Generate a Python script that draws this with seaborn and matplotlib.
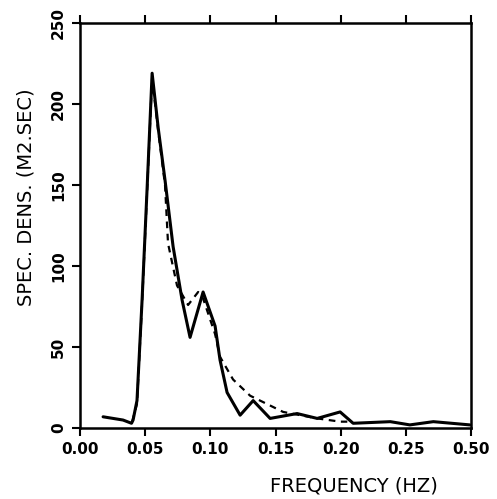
import numpy as np
import pandas as pd
import matplotlib
matplotlib.use("Agg")
import matplotlib.pyplot as plt
import seaborn as sns

# measured spectrum (solid)
freq_obs = [0.0177, 0.033, 0.0395, 0.0407, 0.0437, 0.0476, 0.0514, 0.0553, 0.0600,
            0.0652, 0.0714, 0.0783, 0.0844, 0.0944, 0.1036, 0.1074, 0.1128, 0.1228,
            0.1328, 0.1458, 0.1665, 0.1819, 0.1995, 0.2095, 0.238, 0.253, 0.271, 0.299]
dens_obs = [7, 5, 3, 5, 17, 79, 147, 219, 185,
            153, 112, 79, 56, 84, 63, 42, 22, 8,
            17, 6, 9, 6, 10, 3, 4, 2, 4, 2]

# fitted spectrum (dashed)
freq_fit = [0.040, 0.0437, 0.0476, 0.0514, 0.0553, 0.0600, 0.0652, 0.0675, 0.0744,
            0.0829, 0.0906, 0.0944, 0.1036, 0.1074, 0.1174, 0.1305, 0.1558, 0.182,
            0.1995, 0.205]
dens_fit = [4, 15, 77, 145, 216, 183, 150, 114, 88,
            76, 84, 80, 58, 44, 30, 20, 10, 6,
            4, 4]

xtick_vals = [0.0, 0.05, 0.10, 0.15, 0.20, 0.25, 0.30]
xtick_labels = ["0.00", "0.05", "0.10", "0.15", "0.20", "0.25", "0.50"]
ytick_vals = [0, 50, 100, 150, 200, 250]

sns.set_style("ticks")
plt.rcParams["font.family"] = ["DejaVu Sans"]
plt.rcParams["text.color"] = "black"
plt.rcParams["axes.labelcolor"] = "black"
plt.rcParams["xtick.color"] = "black"
plt.rcParams["ytick.color"] = "black"

fig = plt.figure(figsize=(4.97, 4.99), dpi=100)
ax = fig.add_axes([0.161, 0.142, 0.787, 0.812])

obs = pd.DataFrame({"f": freq_obs, "s": dens_obs})
fit = pd.DataFrame({"f": freq_fit, "s": dens_fit})
sns.lineplot(data=obs, x="f", y="s", ax=ax, color="black", linewidth=2.2, sort=False)
sns.lineplot(data=fit, x="f", y="s", ax=ax, color="black", linewidth=1.6,
             linestyle=(0, (3, 2.5)), sort=False)

ax.set_xlim(0, 0.30)
ax.set_ylim(0, 250)
ax.set_xticks(xtick_vals)
ax.set_xticklabels(xtick_labels, fontsize=11, fontweight="bold")
ax.set_yticks(ytick_vals)
ax.set_yticklabels([str(v) for v in ytick_vals], fontsize=11, fontweight="bold",
                   rotation=90, va="center")
ax.tick_params(axis="x", direction="out", length=6, width=1.5, top=True, bottom=True, pad=4)
ax.tick_params(axis="y", direction="out", length=6, width=1.5, left=True, right=False, pad=4)
for s in ax.spines.values():
    s.set_linewidth(1.8)
    s.set_color("black")

ax.set_xlabel("FREQUENCY (HZ)", fontsize=14)
ax.xaxis.set_label_coords(0.70, -0.12)
ax.set_ylabel("SPEC. DENS. (M2.SEC)", fontsize=14)
ax.yaxis.set_label_coords(-0.115, 0.57)

fig.savefig("out.png", dpi=100)
